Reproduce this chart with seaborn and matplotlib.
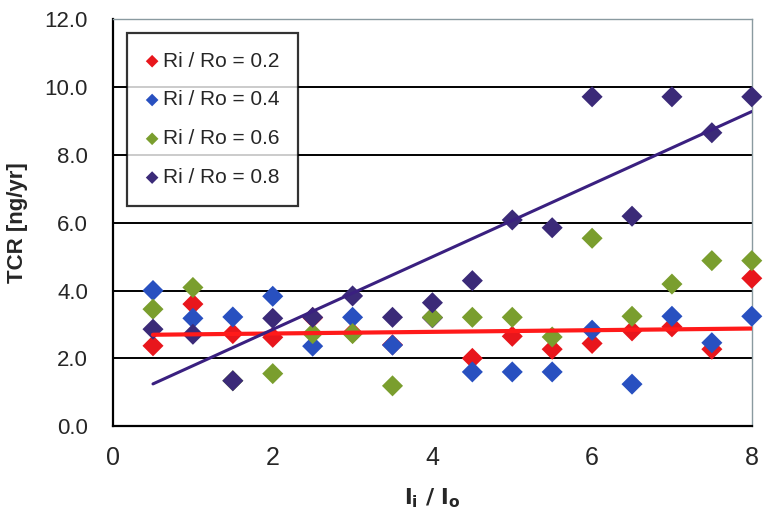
import numpy as np
import pandas as pd
import matplotlib
matplotlib.use("Agg")
import matplotlib.pyplot as plt
import seaborn as sns

x_vals = [0.5, 1.0, 1.5, 2.0, 2.5, 3.0, 3.5, 4.0, 4.5, 5.0, 5.5, 6.0, 6.5, 7.0, 7.5, 8.0]
tcr_02 = [2.37, 3.60, 2.73, 2.62, 3.20, 2.75, 2.40, 3.20, 2.00, 2.65, 2.27, 2.44, 2.81, 2.93, 2.27, 4.36]
tcr_04 = [4.00, 3.18, 3.22, 3.83, 2.36, 3.21, 2.39, 3.20, 1.60, 1.60, 1.60, 2.83, 1.24, 3.24, 2.46, 3.24]
tcr_06 = [3.45, 4.09, 1.34, 1.55, 2.73, 2.73, 1.19, 3.21, 3.21, 3.21, 2.63, 5.54, 3.24, 4.19, 4.88, 4.88]
tcr_08 = [2.86, 2.71, 1.34, 3.18, 3.21, 3.84, 3.21, 3.64, 4.29, 6.08, 5.85, 9.71, 6.19, 9.71, 8.65, 9.71]
series_labels = ["Ri / Ro = 0.2", "Ri / Ro = 0.4", "Ri / Ro = 0.6", "Ri / Ro = 0.8"]
y_ticks = [0, 2, 4, 6, 8, 10, 12]
x_ticks = [0, 2, 4, 6, 8]

colors = ["#e8161c", "#2850c0", "#7a9e2e", "#3b2a78"]

frames = []
for lab, vals in zip(series_labels, [tcr_02, tcr_04, tcr_06, tcr_08]):
    frames.append(pd.DataFrame({"x": x_vals, "y": vals, "series": lab}))
df = pd.concat(frames, ignore_index=True)

sns.set_style("white")
plt.rcParams["font.family"] = ["Liberation Sans", "DejaVu Sans"]

fig = plt.figure(figsize=(7.64, 5.16), dpi=100)
ax = fig.add_axes([0.148, 0.174, 0.836, 0.789])

for lab, col in zip(series_labels, colors):
    sub = df[df["series"] == lab]
    ax.scatter(sub["x"], sub["y"], marker="D", s=115, color=col, edgecolors="none",
               clip_on=False, zorder=3, label=lab)

# trend lines (linear regression)
sns.regplot(data=df[df["series"] == series_labels[0]], x="x", y="y", scatter=False, ci=None,
            ax=ax, line_kws={"color": "#ff1a1a", "lw": 3.0, "zorder": 4})
sns.regplot(data=df[df["series"] == series_labels[3]], x="x", y="y", scatter=False, ci=None,
            ax=ax, line_kws={"color": "#3a2080", "lw": 2.2, "zorder": 4})

ax.set_xlim(0, 8)
ax.set_ylim(0, 12)
ax.set_xticks(x_ticks)
ax.set_yticks(y_ticks)
ax.set_xticklabels([str(t) for t in x_ticks], fontsize=18,
                   family=["Liberation Sans Narrow", "Liberation Sans"])
ax.set_yticklabels([f"{t:.1f}" for t in y_ticks], fontsize=16)
ax.tick_params(axis="x", length=0, pad=14)
ax.tick_params(axis="y", length=0, pad=18)

for yv in y_ticks[1:-1]:
    ax.axhline(yv, color="black", lw=1.4, zorder=1)

ax.spines["left"].set_color("black")
ax.spines["left"].set_linewidth(1.6)
ax.spines["bottom"].set_color("black")
ax.spines["bottom"].set_linewidth(1.6)
for s in ["top", "right"]:
    ax.spines[s].set_color("#8a9aa0")
    ax.spines[s].set_linewidth(1.0)

ax.set_ylabel("TCR [ng/yr]", fontsize=16, fontweight="bold", labelpad=12)
ax.set_xlabel(r"$\mathbf{l_i\ /\ l_o}$", fontsize=16, labelpad=12)

leg = ax.legend(loc="upper left", bbox_to_anchor=(0.022, 0.966), fontsize=15,
                frameon=True, fancybox=False, edgecolor="black", handlelength=0.6,
                handletextpad=0.2, labelspacing=0.95, borderpad=0.9, markerscale=0.6,
                borderaxespad=0)
leg.get_frame().set_linewidth(1.6)
leg.set_zorder(5)

fig.savefig("out.png", dpi=100)
